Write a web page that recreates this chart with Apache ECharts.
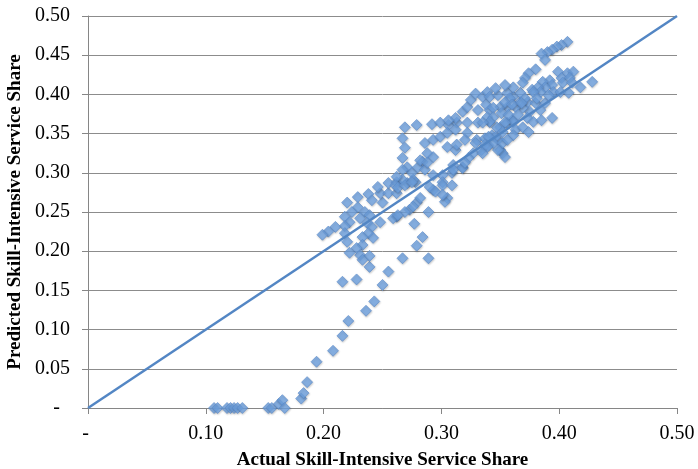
<!DOCTYPE html>
<html>
<head>
<meta charset="utf-8">
<script src="https://cdn.jsdelivr.net/npm/echarts@6/dist/echarts.min.js"></script>
<style>html,body{margin:0;padding:0;background:#fff;}#c{width:698px;height:469px;}</style>
</head>
<body>
<div id="c"></div>
<script>
// [actual, predicted] pairs
var zeroRow = [[0.107,0],[0.110,0],[0.118,0],[0.121,0],[0.124,0],[0.127,0],[0.131,0],[0.153,0],[0.156,0],[0.162,0.005],[0.165,0.010],[0.167,0]];
var lowerBranch = [[0.181,0.012],[0.183,0.019],[0.186,0.033],[0.194,0.059],[0.208,0.073],[0.216,0.092],[0.221,0.111],[0.236,0.124],[0.243,0.136],[0.216,0.161],[0.228,0.164],[0.250,0.157],[0.255,0.174],[0.239,0.180],[0.267,0.191],[0.289,0.191],[0.279,0.207],[0.284,0.218],[0.277,0.235],[0.289,0.250],[0.273,0.253],[0.279,0.262],[0.282,0.268],[0.269,0.250],[0.262,0.244]];
var leftCluster = [[0.220,0.262],[0.229,0.269],[0.238,0.273],[0.241,0.265],[0.250,0.262],[0.248,0.274],[0.255,0.274],[0.262,0.274],[0.229,0.256],[0.224,0.250],[0.218,0.244],[0.235,0.250],[0.239,0.246],[0.231,0.242],[0.222,0.237],[0.218,0.232],[0.210,0.231],[0.204,0.225],[0.199,0.221],[0.237,0.236],[0.241,0.231],[0.248,0.237],[0.238,0.223],[0.242,0.217],[0.233,0.218],[0.218,0.223],[0.220,0.212],[0.233,0.208],[0.228,0.204],[0.231,0.195],[0.222,0.198],[0.239,0.194],[0.233,0.189],[0.259,0.242],[0.263,0.246],[0.246,0.282],[0.255,0.287],[0.262,0.288],[0.271,0.287],[0.278,0.288],[0.276,0.257]];
var midCluster = [[0.279,0.361],[0.292,0.362],[0.299,0.364],[0.306,0.361],[0.313,0.364],[0.322,0.364],[0.331,0.364],[0.341,0.365],[0.269,0.358],[0.267,0.344],[0.269,0.332],[0.267,0.319],[0.271,0.307],[0.275,0.300],[0.267,0.304],[0.286,0.338],[0.293,0.342],[0.299,0.346],[0.305,0.351],[0.312,0.355],[0.322,0.351],[0.320,0.342],[0.305,0.333],[0.312,0.329],[0.288,0.325],[0.293,0.320],[0.284,0.314],[0.280,0.307],[0.286,0.304],[0.276,0.291],[0.327,0.325],[0.334,0.329],[0.340,0.335],[0.323,0.319],[0.318,0.307],[0.310,0.310],[0.309,0.300],[0.301,0.297],[0.301,0.288],[0.293,0.278],[0.290,0.282],[0.301,0.284],[0.305,0.268],[0.303,0.263],[0.330,0.342],[0.350,0.358],[0.356,0.364],[0.360,0.367],[0.348,0.342],[0.350,0.329],[0.352,0.325],[0.343,0.348],[0.313,0.336],[0.337,0.344],[0.329,0.338],[0.282,0.316],[0.288,0.313],[0.267,0.291],[0.262,0.295],[0.261,0.284],[0.263,0.281],[0.269,0.284],[0.275,0.288],[0.293,0.297],[0.310,0.304],[0.318,0.306],[0.320,0.313],[0.309,0.284],[0.295,0.276],[0.301,0.272],[0.312,0.370],[0.318,0.378],[0.322,0.384],[0.325,0.393],[0.329,0.401],[0.335,0.397],[0.331,0.380],[0.338,0.387],[0.306,0.367],[0.341,0.380]];
var upperCluster = [[0.339,0.403],[0.341,0.397],[0.348,0.399],[0.356,0.402],[0.361,0.397],[0.346,0.408],[0.377,0.406],[0.367,0.390],[0.373,0.390],[0.380,0.389],[0.388,0.389],[0.384,0.380],[0.375,0.378],[0.369,0.383],[0.363,0.384],[0.356,0.384],[0.350,0.384],[0.344,0.383],[0.339,0.371],[0.344,0.371],[0.351,0.376],[0.357,0.374],[0.365,0.374],[0.373,0.370],[0.378,0.365],[0.385,0.367],[0.361,0.365],[0.354,0.364],[0.347,0.358],[0.341,0.365],[0.335,0.364],[0.363,0.355],[0.369,0.358],[0.374,0.352],[0.361,0.348],[0.352,0.352],[0.346,0.346],[0.340,0.346],[0.337,0.336],[0.344,0.338],[0.352,0.338],[0.348,0.329],[0.339,0.333],[0.335,0.325],[0.354,0.320],[0.356,0.342],[0.394,0.370],[0.367,0.402],[0.358,0.395],[0.354,0.390]];
var topCluster = [[0.407,0.467],[0.402,0.463],[0.398,0.461],[0.394,0.457],[0.390,0.454],[0.385,0.452],[0.388,0.444],[0.380,0.432],[0.374,0.427],[0.371,0.421],[0.369,0.415],[0.399,0.429],[0.407,0.427],[0.412,0.429],[0.402,0.421],[0.409,0.421],[0.403,0.415],[0.411,0.415],[0.418,0.409],[0.428,0.416],[0.392,0.418],[0.386,0.416],[0.394,0.412],[0.388,0.409],[0.382,0.409],[0.384,0.403],[0.378,0.403],[0.395,0.403],[0.401,0.403],[0.408,0.402],[0.391,0.399],[0.381,0.395],[0.371,0.395],[0.361,0.409],[0.354,0.412],[0.360,0.387],[0.368,0.389]];
var fortyFiveLine = [[0,0],[0.5,0.5]];
var xTitle = 'Actual Skill-Intensive Service Share';
var yTitle = 'Predicted Skill-Intensive Service Share';

var points = [].concat(zeroRow, lowerBranch, leftCluster, midCluster, upperCluster, topCluster);
var serif = '"Liberation Serif","Times New Roman",serif';
var chart = echarts.init(document.getElementById('c'), null, {renderer: 'canvas'});
chart.setOption({
  animation: false,
  backgroundColor: '#fff',
  grid: {left: 88, right: 21, top: 16, bottom: 61, containLabel: false, outerBoundsMode: 'none'},
  xAxis: {
    type: 'value', min: 0, max: 0.5, interval: 0.1,
    name: xTitle, nameLocation: 'middle', nameGap: 43,
    nameTextStyle: {fontFamily: serif, fontWeight: 'bold', fontSize: 19, color: '#000'},
    axisLine: {show: true, lineStyle: {color: '#868686', width: 1}},
    axisTick: {show: true, length: 6, lineStyle: {color: '#868686'}},
    splitLine: {show: false},
    axisLabel: {fontFamily: serif, fontSize: 20, color: '#000', margin: 16,
      formatter: function (v) { return v === 0 ? '- ' : v.toFixed(2); }}
  },
  yAxis: {
    type: 'value', min: 0, max: 0.5, interval: 0.05,
    name: yTitle, nameLocation: 'middle', nameGap: 59, nameRotate: 90,
    nameTextStyle: {fontFamily: serif, fontWeight: 'bold', fontSize: 19, color: '#000'},
    axisLine: {show: true, lineStyle: {color: '#868686', width: 1}},
    axisTick: {show: true, length: 6, lineStyle: {color: '#868686'}},
    splitLine: {show: true, lineStyle: {color: '#8c8c8c', width: 1}},
    axisLabel: {fontFamily: serif, fontSize: 20, color: '#000', margin: 18,
      formatter: function (v) { return v === 0 ? '-  ' : v.toFixed(2); }}
  },
  series: [
    {
      type: 'scatter', data: points, symbol: 'diamond', symbolSize: 11, z: 2,
      itemStyle: {color: '#71a4e2', borderColor: '#5a8bcb', borderWidth: 0.8,
        shadowBlur: 2, shadowColor: 'rgba(0,0,0,0.25)', shadowOffsetX: 0.5, shadowOffsetY: 1}
    },
    {
      type: 'line', data: fortyFiveLine, symbol: 'none', z: 3,
      lineStyle: {color: '#5386c4', width: 2.5}
    }
  ]
});
</script>
</body>
</html>
